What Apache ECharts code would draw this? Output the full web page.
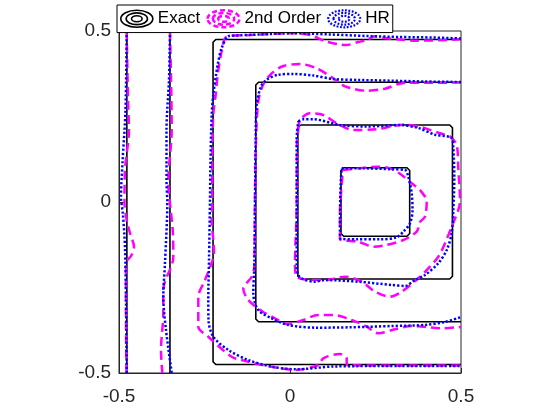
<!DOCTYPE html>
<html>
<head>
<meta charset="utf-8">
<script src="https://cdn.jsdelivr.net/npm/echarts@6/dist/echarts.min.js"></script>
<style>
  html, body { margin: 0; padding: 0; background: #fff; }
  #main { width: 560px; height: 420px; }
</style>
</head>
<body>
<div id="main"></div>
<script>
// tick labels
const ticks = [-0.5, 0, 0.5];
const legendNames = ['Exact', '2nd Order', 'HR'];

// exact contours (levels 0.1 ... 0.725)
const exact1 = [[-0.477, 0.5], [-0.477, -0.5]];
const exact2 = [[-0.351, 0.5], [-0.351, -0.5]];
const exact3 = [[0.5, 0.475], [-0.217, 0.475], [-0.225, 0.467], [-0.225, -0.467], [-0.217, -0.475], [0.5, -0.475]];
const exact4 = [[0.5, 0.35], [-0.092, 0.35], [-0.1, 0.342], [-0.1, -0.342], [-0.092, -0.35], [0.5, -0.35]];
const exact5 = [[0.031, 0.225], [0.467, 0.225], [0.475, 0.217], [0.475, -0.217], [0.467, -0.225], [0.031, -0.225], [0.023, -0.217], [0.023, 0.217], [0.031, 0.225]];
const exact6 = [[0.157, 0.1], [0.342, 0.1], [0.35, 0.092], [0.35, -0.092], [0.342, -0.1], [0.157, -0.1], [0.149, -0.092], [0.149, 0.092], [0.157, 0.1]];

// 2nd order scheme
const second1 = [[-0.4775, 0.5], [-0.4737, 0.298], [-0.4708, 0.211], [-0.4825, 0.094], [-0.4839, -0.003], [-0.4766, -0.058], [-0.4678, -0.091], [-0.4561, -0.132], [-0.4649, -0.158], [-0.4795, -0.178], [-0.4795, -0.345], [-0.478, -0.5]];
const second2 = [[-0.351, 0.5], [-0.3459, 0.211], [-0.3558, 0.064], [-0.343, -0.082], [-0.3412, -0.161], [-0.3705, -0.257], [-0.3705, -0.325], [-0.3772, -0.433], [-0.3734, -0.5]];
const second3 = [[0.5, 0.4757], [0.3705, 0.4716], [0.3266, 0.4746], [0.2827, 0.4787], [0.2485, 0.4845], [0.2243, 0.4737], [0.1997, 0.4678], [0.1658, 0.4591], [0.1512, 0.4599], [0.1073, 0.4687], [0.0585, 0.4883], [0.0096, 0.4933], [-0.117, 0.4883], [-0.1851, 0.4833], [-0.1997, 0.4406], [-0.2114, 0.3722], [-0.2173, 0.3137], [-0.2243, 0.2553], [-0.2272, 0.1199], [-0.2272, -0.0079], [-0.2289, -0.0526], [-0.2243, -0.1111], [-0.2222, -0.1462], [-0.2485, -0.2281], [-0.2681, -0.2769], [-0.2681, -0.3646], [-0.2389, -0.3939], [-0.1705, -0.4523], [-0.1219, -0.467], [-0.0535, -0.4816], [0.0146, -0.4912], [0.0827, -0.4766], [0.0974, -0.457], [0.1462, -0.4444], [0.1658, -0.457], [0.1658, -0.4766], [0.3216, -0.4781], [0.5, -0.4781]];
const second4 = [[0.5, 0.3494], [0.4181, 0.3488], [0.3412, 0.3488], [0.3167, 0.345], [0.2778, 0.3313], [0.2243, 0.3254], [0.1608, 0.3383], [0.1266, 0.3617], [0.0781, 0.3909], [0.0292, 0.4035], [-0.0196, 0.3977], [-0.0535, 0.3763], [-0.0789, 0.3421], [-0.0927, 0.2933], [-0.0994, 0.1813], [-0.1023, 0.0058], [-0.1044, -0.1892], [-0.112, -0.2184], [-0.1365, -0.2544], [-0.1219, -0.2865], [-0.0827, -0.3187], [-0.0439, -0.3401], [-0.0058, -0.3567], [0.0389, -0.345], [0.0827, -0.3304], [0.1266, -0.3304], [0.1804, -0.345], [0.2243, -0.3646], [0.2582, -0.3839], [0.307, -0.3722], [0.3558, -0.3626], [0.4436, -0.3693], [0.5, -0.3655]];
const second5 = [[0.0243, 0.2105], [0.0292, 0.2398], [0.0585, 0.2594], [0.0974, 0.2544], [0.1365, 0.2301], [0.1851, 0.2105], [0.2535, 0.2126], [0.302, 0.2222], [0.3363, 0.226], [0.3851, 0.2184], [0.4386, 0.2009], [0.4678, 0.1915], [0.4874, 0.1667], [0.4921, 0.0994], [0.4971, 0.002], [0.4921, -0.0234], [0.4728, -0.0722], [0.4532, -0.1208], [0.4336, -0.1599], [0.4044, -0.1939], [0.3751, -0.2231], [0.3266, -0.2623], [0.2924, -0.2769], [0.2485, -0.2623], [0.2096, -0.2331], [0.1608, -0.2184], [0.1023, -0.2281], [0.0681, -0.2281], [0.0196, -0.2184], [0.0146, -0.1842], [0.0196, -0.0175], [0.0205, 0.1813], [0.0243, 0.2105]];
const second6 = [[0.1558, 0.0936], [0.2047, 0.0985], [0.2535, 0.1032], [0.2924, 0.0985], [0.3266, 0.0789], [0.3558, 0.0547], [0.3801, 0.0351], [0.3997, 0.0009], [0.3947, -0.043], [0.3801, -0.0585], [0.3705, -0.0868], [0.3313, -0.1111], [0.2827, -0.1257], [0.2436, -0.1307], [0.1997, -0.1161], [0.1462, -0.1082], [0.1462, -0.043], [0.1512, 0.0547], [0.1558, 0.0936]];

// HR scheme
const hr1 = [[-0.4775, 0.5], [-0.481, 0.269], [-0.4898, 0.114], [-0.4942, 0.015], [-0.4883, -0.038], [-0.4825, -0.132], [-0.4795, -0.287], [-0.4775, -0.5]];
const hr2 = [[-0.3509, 0.5], [-0.3538, 0.357], [-0.3611, 0.211], [-0.3611, 0.064], [-0.3588, -0.003], [-0.3655, -0.178], [-0.3705, -0.278], [-0.3626, -0.374], [-0.3459, -0.5]];
const hr3 = [[0.5, 0.4781], [0.4181, 0.481], [0.3216, 0.4825], [0.2243, 0.4854], [0.117, 0.4898], [0.0088, 0.4933], [-0.0877, 0.4898], [-0.1579, 0.4868], [-0.1804, 0.4845], [-0.1997, 0.4503], [-0.2114, 0.4015], [-0.2243, 0.3137], [-0.2289, 0.2553], [-0.2325, 0.1228], [-0.2339, 0.0058], [-0.2368, -0.1696], [-0.2389, -0.2865], [-0.2383, -0.345], [-0.2243, -0.3939], [-0.1804, -0.4327], [-0.1219, -0.462], [-0.0535, -0.4816], [0.0196, -0.4892], [0.1266, -0.481], [0.3216, -0.4795], [0.5, -0.4795]];
const hr4 = [[0.5, 0.3509], [0.3947, 0.3523], [0.2974, 0.3547], [0.2047, 0.3567], [0.1266, 0.3596], [0.0681, 0.3699], [0.0096, 0.3743], [-0.0342, 0.3722], [-0.0681, 0.3576], [-0.0848, 0.3377], [-0.0974, 0.2845], [-0.1003, 0.1871], [-0.1023, 0.0058], [-0.1044, -0.1892], [-0.1073, -0.267], [-0.0927, -0.3158], [-0.0535, -0.3401], [-0.005, -0.3596], [0.0781, -0.3675], [0.1754, -0.3664], [0.2974, -0.3626], [0.3947, -0.3596], [0.4532, -0.3509], [0.5, -0.3363]];
const hr5 = [[0.0243, 0.236], [0.0389, 0.2418], [0.0681, 0.2418], [0.1462, 0.2251], [0.2243, 0.2208], [0.3216, 0.2251], [0.3751, 0.2164], [0.424, 0.1968], [0.4728, 0.1871], [0.4775, 0.1579], [0.4804, 0.0702], [0.4775, -0.0234], [0.4728, -0.0915], [0.4582, -0.1404], [0.4336, -0.1792], [0.3947, -0.2135], [0.3655, -0.2281], [0.3363, -0.2456], [0.2974, -0.2427], [0.1997, -0.233], [0.1023, -0.2281], [0.0731, -0.233], [0.0292, -0.2202], [0.0196, -0.1892], [0.0196, -0.0175], [0.0196, 0.1871], [0.0243, 0.236]];
const hr6 = [[0.1512, 0.0985], [0.2143, 0.0985], [0.302, 0.0956], [0.3363, 0.0936], [0.3459, 0.074], [0.3558, 0.0254], [0.3582, -0.0234], [0.3509, -0.0623], [0.3313, -0.0868], [0.312, -0.1032], [0.2632, -0.1091], [0.195, -0.1091], [0.1462, -0.1067], [0.1462, -0.043], [0.1482, 0.0547], [0.1512, 0.0985]];

const exactLines = [exact1, exact2, exact3, exact4, exact5, exact6];
const secondLines = [second1, second2, second3, second4, second5, second6];
const hrLines = [hr1, hr2, hr3, hr4, hr5, hr6];

const font = 'Liberation Sans, Arial, Helvetica, sans-serif';
const axisColor = '#262626';
// concentric ellipses like the contour legend icon
const ringIcon = 'path://M1 9A15 8 0 1 1 31 9A15 8 0 1 1 1 9ZM6 9A10 5.5 0 1 1 26 9A10 5.5 0 1 1 6 9ZM11 9A5 2.8 0 1 1 21 9A5 2.8 0 1 1 11 9Z';

function makeSeries(lines, name, lineStyle, smooth) {
  return lines.map(d => ({
    name,
    type: 'line',
    data: d,
    showSymbol: false,
    symbol: 'none',
    smooth,
    silent: true,
    lineStyle,
  }));
}

const series = [].concat(
  makeSeries(exactLines, 'Exact', { color: '#000', width: 1.6, type: 'solid' }, false),
  makeSeries(secondLines, '2nd Order', { color: '#ff00ff', width: 2.5, type: [9, 5] }, 0.3),
  makeSeries(hrLines, 'HR', { color: '#0000ff', width: 2.5, type: [2.2, 2] }, 0.3)
);

const axisCommon = {
  type: 'value',
  min: ticks[0],
  max: ticks[ticks.length - 1],
  interval: 0.5,
  splitLine: { show: false },
  axisLine: { show: true, onZero: false, lineStyle: { color: axisColor, width: 1 } },
  axisTick: { show: true, inside: true, length: 5, lineStyle: { color: axisColor } },
  axisLabel: { color: axisColor, fontSize: 19, fontFamily: font },
};

const option = {
  animation: false,
  backgroundColor: '#fff',
  grid: {
    left: 119, right: 99, top: 31, bottom: 47,
    show: true, borderColor: axisColor, borderWidth: 1, backgroundColor: 'transparent',
  },
  xAxis: { ...axisCommon, axisLabel: { ...axisCommon.axisLabel, margin: 14 } },
  yAxis: { ...axisCommon, axisLabel: { ...axisCommon.axisLabel, margin: 8 } },
  legend: {
    left: 117,
    top: 5,
    orient: 'horizontal',
    padding: [4, 3],
    itemGap: 6,
    itemWidth: 32,
    itemHeight: 18,
    backgroundColor: '#fff',
    borderColor: '#000',
    borderWidth: 1,
    selectedMode: false,
    textStyle: { color: '#000', fontSize: 17, fontFamily: font },
    data: [
      { name: legendNames[0], icon: ringIcon, itemStyle: { color: 'rgba(0,0,0,0)', borderColor: '#000', borderWidth: 1.6 } },
      { name: legendNames[1], icon: ringIcon, itemStyle: { color: 'rgba(0,0,0,0)', borderColor: '#ff00ff', borderWidth: 2.5, borderType: [5, 3] } },
      { name: legendNames[2], icon: ringIcon, itemStyle: { color: 'rgba(0,0,0,0)', borderColor: '#0000ff', borderWidth: 2.2, borderType: [1.8, 1.6] } },
    ],
  },
  series,
};

const myChart = echarts.init(document.getElementById('main'), null, { renderer: 'canvas' });
myChart.setOption(option);
</script>
</body>
</html>
